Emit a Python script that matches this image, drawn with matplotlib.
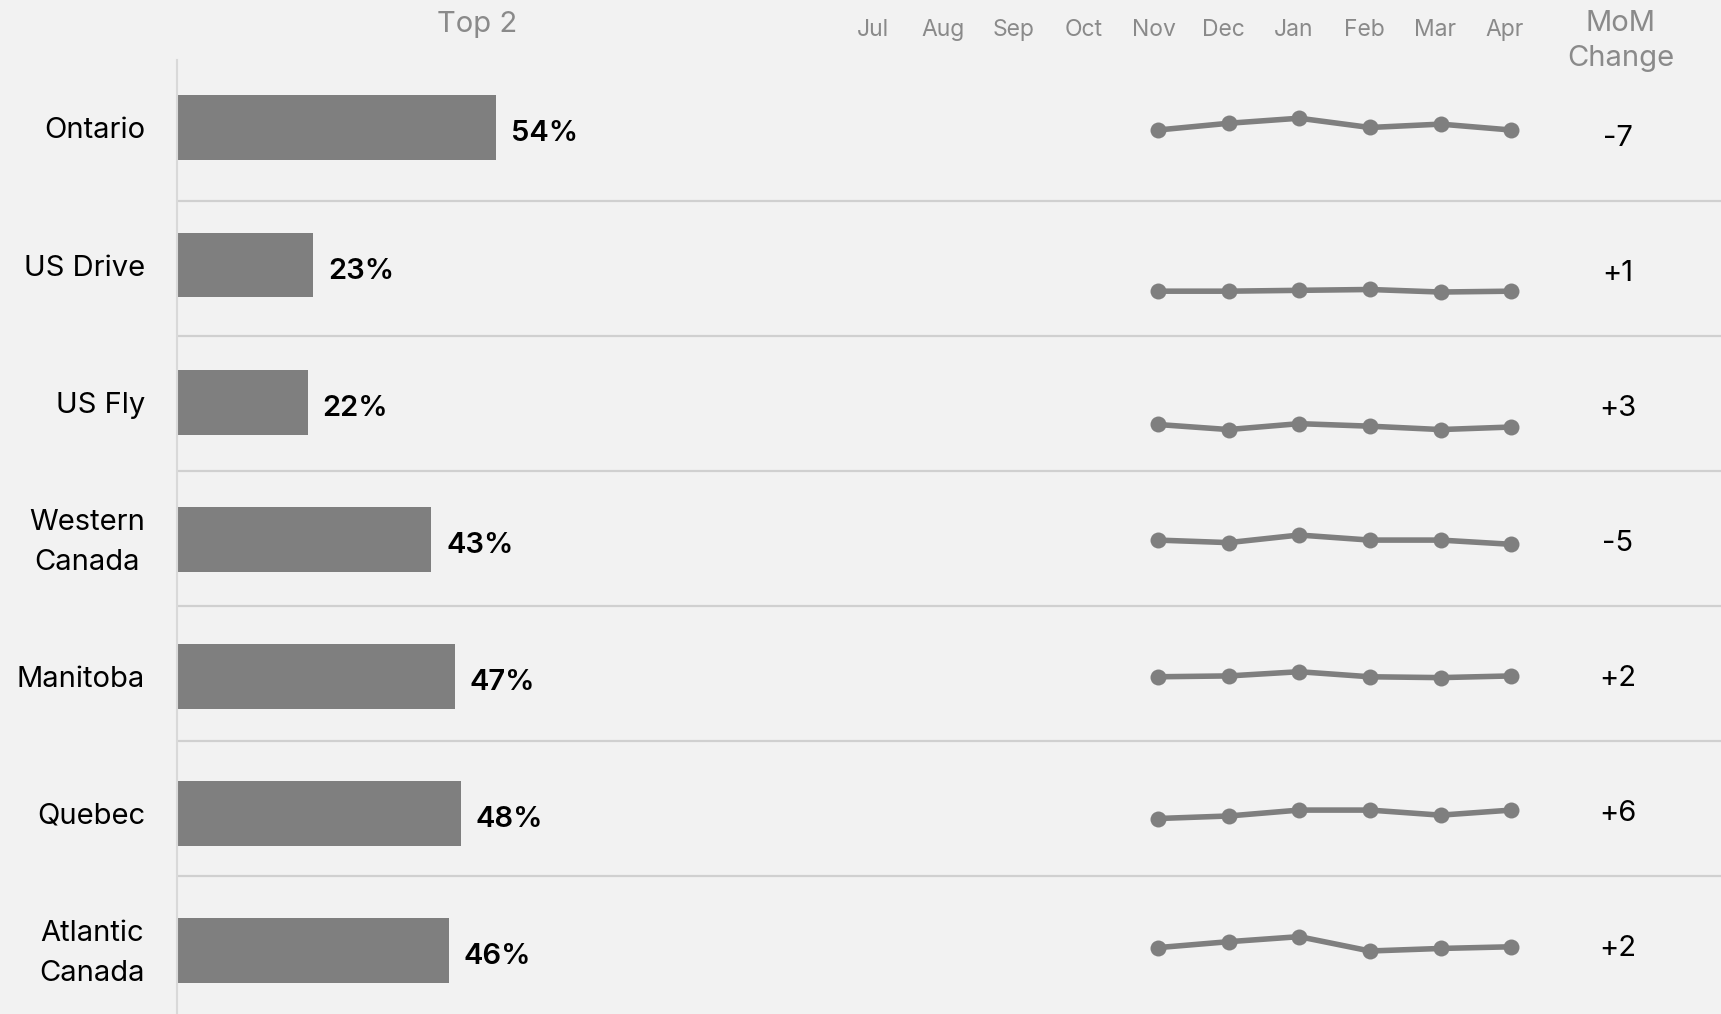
import matplotlib
matplotlib.use("Agg")
import matplotlib.pyplot as plt
from matplotlib.lines import Line2D

# ---------------- data ----------------
regions = ["Ontario", "US Drive", "US Fly", "Western\nCanada", "Manitoba", "Quebec", "Atlantic\nCanada"]
top2 = [54, 23, 22, 43, 47, 48, 46]
months = ["Jul", "Aug", "Sep", "Oct", "Nov", "Dec", "Jan", "Feb", "Mar", "Apr"]
trend_months = ["Nov", "Dec", "Jan", "Feb", "Mar", "Apr"]
ontario_trend = [54, 62, 68, 57, 61, 54]
us_drive_trend = [23, 23, 24, 25, 22, 23]
us_fly_trend = [25, 19, 26, 23, 19, 22]
western_trend = [48, 45, 54, 48, 48, 43]
manitoba_trend = [46, 47, 52, 46, 45, 47]
quebec_trend = [38, 41, 48, 48, 42, 48]
atlantic_trend = [45, 52, 58, 41, 44, 46]
mom_change = [-7, 1, 3, -5, 2, 6, 2]

trends = [ontario_trend, us_drive_trend, us_fly_trend, western_trend,
          manitoba_trend, quebec_trend, atlantic_trend]

# ---------------- style ----------------
W, H = 1721, 1014
BG = "#f2f2f2"
BAR = "#7f7f7f"
HEAD = "#8a8a8a"
SEP = "#d0d0d0"
plt.rcParams["font.family"] = ["Inter", "DejaVu Sans"]

fig = plt.figure(figsize=(W / 100, H / 100), dpi=100, facecolor=BG)

# ---------------- bars ----------------
bar_top, bar_bot = 59.35, 1019.05
ax = fig.add_axes([178 / W, 1 - bar_bot / H, 589 / W, (bar_bot - bar_top) / H])
ax.set_xlim(0, 100)
ax.set_ylim(len(regions) - 0.5, -0.5)
ax.axis("off")
ax.patch.set_alpha(0)
ypos = list(range(len(regions)))
ax.barh(ypos, top2, height=0.474, color=BAR)
for i, (name, v) in enumerate(zip(regions, top2)):
    ax.annotate(name, xy=(145, i), xycoords=("figure pixels", "data"),
                xytext=(0, -3), textcoords="offset pixels",
                ha="right", va="center", multialignment="center",
                fontsize=21, color="black", linespacing=1.6)
    ax.annotate(f"{v}%", xy=(v, i), xytext=(15, -6), textcoords="offset pixels",
                ha="left", va="center", fontsize=21, fontweight="semibold", color="black")

# ---------------- table lines + MoM ----------------
tab_top, tab_bot = 65.9, 1010.9
tab = fig.add_axes([0, 1 - tab_bot / H, 1, (tab_bot - tab_top) / H])
tab.set_xlim(0, W)
tab.set_ylim(len(regions), 0)
tab.axis("off")
tab.patch.set_alpha(0)
tab.hlines(range(1, len(regions)), 178, W, color=SEP, lw=1.6)
for i, m in enumerate(mom_change):
    tab.annotate(f"{m:+d}", xy=(1618, i + 0.5), xytext=(0, -5), textcoords="offset pixels",
                 ha="center", va="center", fontsize=21, color="black")
fig.add_artist(Line2D([177 / W, 177 / W], [0, 1 - 60 / H], color="#d9d9d9", lw=1.5))

# ---------------- sparklines ----------------
x0, step = 875, 70.7
sx_left = x0 - step / 2
sx_w = step * len(months)
row_h = (tab_bot - tab_top) / len(regions)
xi = [months.index(m) for m in trend_months]
for i, vals in enumerate(trends):
    top = tab_top + i * row_h
    sax = fig.add_axes([sx_left / W, 1 - (top + row_h) / H, sx_w / W, row_h / H])
    sax.set_xlim(-0.5, len(months) - 0.5)
    sax.set_ylim(-30, 130)
    sax.axis("off")
    sax.patch.set_alpha(0)
    sax.plot(xi, vals, "-o", color=BAR, lw=4.0, ms=11.5, mew=0, solid_capstyle="round")

# ---------------- headers ----------------
hx0, hstep = 872.6, 70.25
hax = fig.add_axes([(hx0 - hstep / 2) / W, 1 - 60 / H, hstep * len(months) / W, 60 / H])
hax.set_xlim(-0.5, len(months) - 0.5)
hax.set_ylim(60, 0)
hax.axis("off")
hax.patch.set_alpha(0)
for j, m in enumerate(months):
    hax.text(j, 30, m, ha="center", va="center", fontsize=16.5, color=HEAD)

fig.text(477.5 / W, 1 - 24 / H, "Top 2", ha="center", va="center", fontsize=21, color=HEAD)
fig.text(1621 / W, 1 - 41 / H, "MoM\nChange", ha="center", va="center",
         fontsize=21, color=HEAD, linespacing=1.35)

fig.savefig("out.png", dpi=100, facecolor=BG)
